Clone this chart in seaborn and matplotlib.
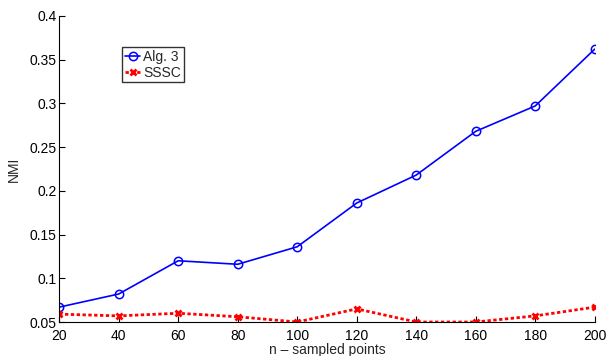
import matplotlib
matplotlib.use("Agg")
import matplotlib.pyplot as plt
import seaborn as sns
import pandas as pd

n_points = [20, 40, 60, 80, 100, 120, 140, 160, 180, 200]
alg3_nmi = [0.067, 0.082, 0.120, 0.116, 0.136, 0.186, 0.218, 0.268, 0.297, 0.362]
sssc_nmi = [0.059, 0.057, 0.060, 0.056, 0.050, 0.065, 0.050, 0.050, 0.057, 0.067]
y_ticks = [0.05, 0.1, 0.15, 0.2, 0.25, 0.3, 0.35, 0.4]
y_tick_labels = ["0.05", "0.1", "0.15", "0.2", "0.25", "0.3", "0.35", "0.4"]

sns.set_style("ticks")
plt.rcParams["font.family"] = ["Liberation Sans", "DejaVu Sans"]

df = pd.DataFrame({
    "n": n_points * 2,
    "NMI": alg3_nmi + sssc_nmi,
    "method": ["Alg. 3"] * len(n_points) + ["SSSC"] * len(n_points),
})

fig = plt.figure(figsize=(6.1, 3.56), dpi=100)
ax = fig.add_axes([0.097, 0.0955, 0.878, 0.86])

sns.lineplot(data=df[df.method == "Alg. 3"], x="n", y="NMI", ax=ax,
             color="#0000ff", linewidth=1.2, marker="o", markersize=6,
             markerfacecolor="none", markeredgecolor="#0000ff",
             markeredgewidth=1.1, label="Alg. 3")
sns.lineplot(data=df[df.method == "SSSC"], x="n", y="NMI", ax=ax,
             color="#ff0000", linewidth=2.0, linestyle=(0, (1.2, 0.9)),
             marker="x", markersize=5, markeredgewidth=2.0,
             markeredgecolor="#ff0000", label="SSSC")

ax.set_xlim(20, 200)
ax.set_ylim(0.05, 0.4)
ax.set_xticks(n_points)
ax.set_xticklabels([str(v) for v in n_points])
ax.set_yticks(y_ticks)
ax.set_yticklabels(y_tick_labels)
ax.tick_params(direction="in", length=4, width=0.8, labelsize=10, colors="black")
ax.tick_params(axis="y", pad=2)
ax.tick_params(axis="x", pad=5)
for side in ("top", "right"):
    ax.spines[side].set_visible(False)
for side in ("left", "bottom"):
    ax.spines[side].set_linewidth(0.8)
    ax.spines[side].set_color("black")

ax.set_xlabel("n – sampled points", fontsize=10, labelpad=0)
ax.set_ylabel("NMI", fontsize=10, labelpad=6)

leg = ax.legend(loc="upper left", bbox_to_anchor=(0.118, 0.897), fontsize=10,
                frameon=True, fancybox=False, handlelength=1.1,
                handletextpad=0.2, borderpad=0.2, labelspacing=0.1,
                borderaxespad=0)
leg.get_frame().set_edgecolor("black")
leg.get_frame().set_linewidth(1.0)

fig.savefig("out.png", dpi=100)
